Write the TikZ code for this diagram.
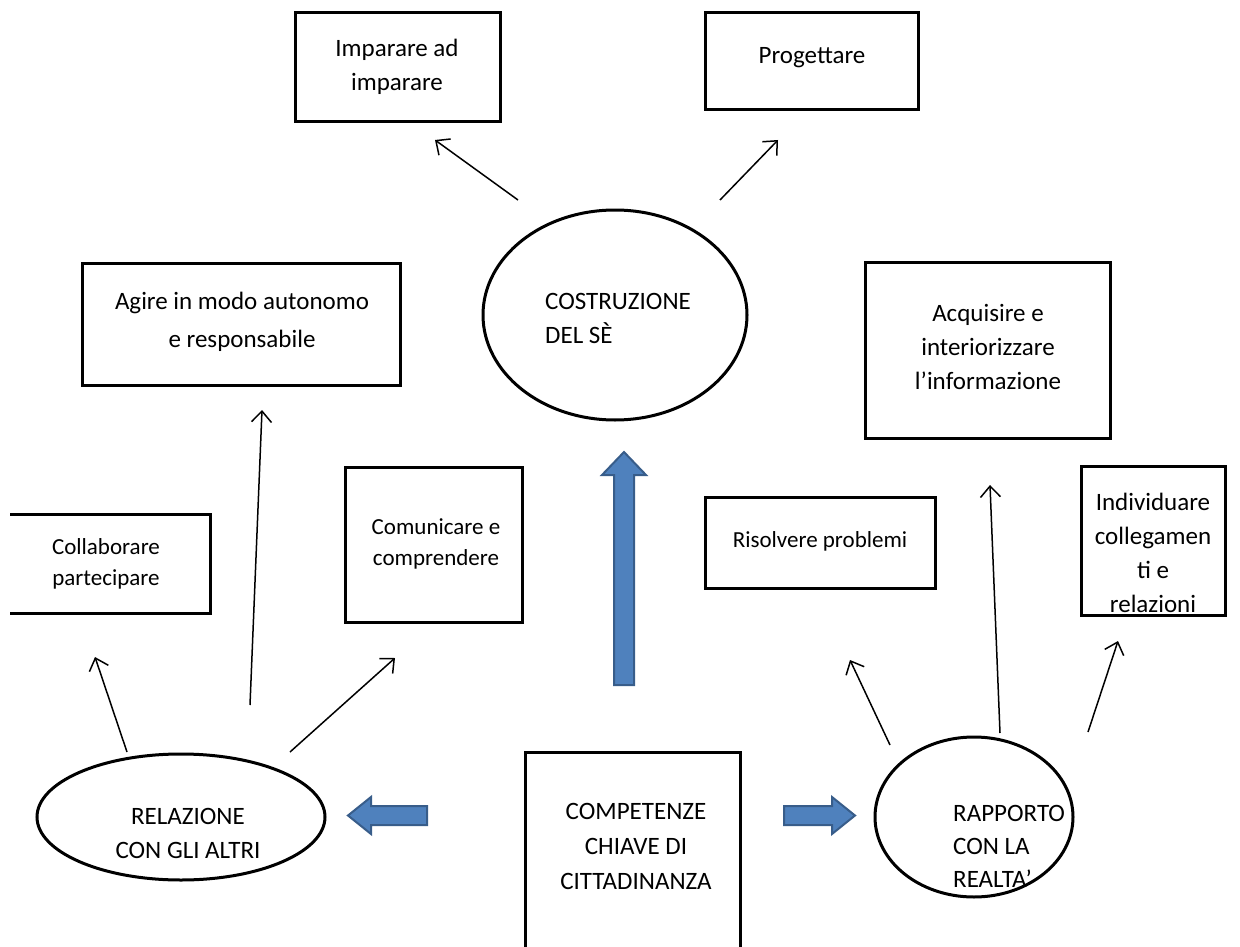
\documentclass[tikz,border=0pt]{standalone}
\usepackage{fontspec}
\setmainfont{Carlito}
\usetikzlibrary{arrows.meta}
\definecolor{bluefill}{HTML}{4F81BD}
\definecolor{blueline}{HTML}{385D8A}
\tikzset{
  txt/.style={align=center, inner sep=0pt, font=\fontsize{25}{34}\selectfont},
  ltxt/.style={align=left, inner sep=0pt, anchor=west, font=\fontsize{25}{34}\selectfont},
  smalltxt/.style={align=center, inner sep=0pt, font=\fontsize{23}{31}\selectfont},
  frame/.style={line width=3pt},
  thin/.style={line width=1.5pt, -{Straight Barb[length=11pt,width=20pt,line width=1.5pt]}},
  bigarrow/.style={fill=bluefill, draw=blueline, line width=2pt, line join=miter}
}
\begin{document}
\begin{tikzpicture}[x=1pt,y=-1pt]
\useasboundingbox (0,0) rectangle (1240,947);
% boxes
\draw[frame] (295,13) rectangle (500,122);
\node[txt] (imp) at (397,67) {Imparare ad\\imparare};
\draw[frame] (705,13) rectangle (918,110);
\node[txt] (prog) at (812,58) {Progettare};
\draw[frame] (82,263) rectangle (400,385);
\node[txt, align=center, font=\fontsize{25}{38}\selectfont] (agire) at (242,322) {Agire in modo autonomo\\e responsabile};
\draw[frame] (865,262) rectangle (1110,438);
\node[txt] (acq) at (988,347) {Acquisire e\\interiorizzare\\l’informazione};
\draw[frame] (345,467) rectangle (522,622);
\node[smalltxt] (com) at (436,544) {Comunicare e\\comprendere};
\draw[frame] (10,514) -- (210,514) -- (210,613) -- (10,613);
\node[smalltxt] (coll) at (106,564) {Collaborare\\partecipare};
\draw[frame] (705,497) rectangle (935,588);
\node[smalltxt] (ris) at (820,541) {Risolvere problemi};
\draw[frame] (1081,466) rectangle (1225,615);
\node[txt] (ind) at (1153,553) {Individuare\\collegamen\\ti e\\relazioni};
\draw[frame] (525,752) rectangle (740,960);
\node[txt, font=\fontsize{25}{35}\selectfont] (comp) at (636,846) {COMPETENZE\\CHIAVE DI\\CITTADINANZA};
% ellipses
\draw[frame] (615,315) ellipse [x radius=132, y radius=105];
\node[ltxt] (cos) at (545,318) {COSTRUZIONE\\DEL SÈ};
\draw[frame] (181,817) ellipse [x radius=144, y radius=63];
\node[txt] (rel) at (188,833) {RELAZIONE\\CON GLI ALTRI};
\draw[frame] (974,817) ellipse [x radius=99, y radius=80];
\node[ltxt, font=\fontsize{25}{33}\selectfont] (rap) at (953,846) {RAPPORTO\\CON LA\\REALTA’};
% thin arrows
\coordinate (a1s) at (518,200); \coordinate (a1e) at (435,140);
\coordinate (a2s) at (720,200); \coordinate (a2e) at (778,140);
\coordinate (a3s) at (250,705); \coordinate (a3e) at (262,410);
\coordinate (a4s) at (127,752); \coordinate (a4e) at (95,657);
\coordinate (a5s) at (290,752); \coordinate (a5e) at (395,658);
\coordinate (a6s) at (890,745); \coordinate (a6e) at (850,660);
\coordinate (a7s) at (1000,733); \coordinate (a7e) at (990,485);
\coordinate (a8s) at (1088,732); \coordinate (a8e) at (1118,641);
\foreach \i in {1,...,8} {\draw[thin] (a\i s) -- (a\i e);}
% blue block arrows
\draw[bigarrow] (614,685) -- (614,475) -- (602,475) -- (624,452) -- (646,475) -- (634,475) -- (634,685) -- cycle;
\draw[bigarrow] (427,806) -- (371,806) -- (371,797) -- (348,815.5) -- (371,834) -- (371,825) -- (427,825) -- cycle;
\draw[bigarrow] (784,806) -- (832,806) -- (832,797) -- (855,815.5) -- (832,834) -- (832,825) -- (784,825) -- cycle;
\end{tikzpicture}
\end{document}
